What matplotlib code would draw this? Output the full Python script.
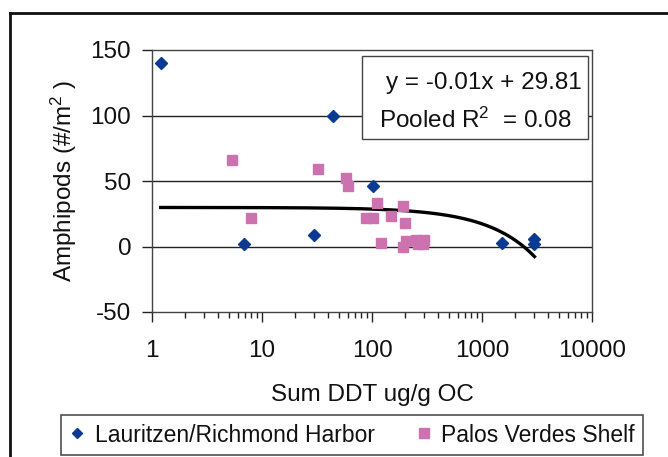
import numpy as np
import matplotlib
matplotlib.use("Agg")
import matplotlib.pyplot as plt
from matplotlib.lines import Line2D
from matplotlib.patches import Rectangle

plt.rcParams['font.family'] = ['Liberation Sans', 'DejaVu Sans']
plt.rcParams['axes.unicode_minus'] = False
plt.rcParams['mathtext.fontset'] = 'custom'
plt.rcParams['mathtext.rm'] = 'Liberation Sans'
plt.rcParams['mathtext.it'] = 'Liberation Sans'
plt.rcParams['mathtext.default'] = 'regular'

# Lauritzen/Richmond Harbor
lr_x = [1.2, 44, 6.9, 30, 102, 1520, 2950, 3000]
lr_y = [140, 100, 2, 9, 46, 2.5, 6, 2]

# Palos Verdes Shelf
pv_x = [5.3, 7.9, 32, 58, 60, 112, 88, 102, 190, 150, 200, 120, 190, 205, 250, 300, 262, 290]
pv_y = [66, 22, 59, 52, 46, 33, 22, 22, 31, 23, 18, 3, 0, 4, 5, 5, 2, 2]

# trend line (linear fit shown on log axis)
fit_slope = -0.0125
fit_intercept = 29.81
fit_xmin, fit_xmax = 1.2, 3000

x_ticks = [1, 10, 100, 1000, 10000]
x_ticklabels = ['1', '10', '100', '1000', '10000']
y_ticks = [-50, 0, 50, 100, 150]

W, H = 668, 457
fig = plt.figure(figsize=(W / 100, H / 100), dpi=100)
ax = fig.add_axes([152 / W, 1 - 312 / H, (592 - 152) / W, (312 - 50) / H])

fs_tick = 17.5
fs_lab = 17.5
fs_leg = 16.5
blue = '#0A3A91'
pink = '#CC72AE'

for y in [0, 50, 100]:
    ax.axhline(y, color='#222222', lw=1.0, zorder=1)

xf = np.logspace(np.log10(fit_xmin), np.log10(fit_xmax), 200)
ax.plot(xf, fit_slope * xf + fit_intercept, color='black', lw=2.4, zorder=2)

ax.plot(lr_x, lr_y, ls='none', marker='D', ms=6, color=blue, mec=blue, zorder=3,
        label='Lauritzen/Richmond Harbor')
ax.plot(pv_x, pv_y, ls='none', marker='s', ms=7.2, color=pink, mec=pink, zorder=3,
        label='Palos Verdes Shelf')

ax.set_xscale('log')
ax.set_xlim(1, 10000)
ax.set_ylim(-50, 150)
ax.set_xticks(x_ticks)
ax.set_xticklabels(x_ticklabels)
ax.set_yticks(y_ticks)
ax.tick_params(axis='both', which='major', direction='out', length=7, width=1,
               labelsize=fs_tick, colors='#222222', labelcolor='#111111')
ax.tick_params(axis='x', which='minor', direction='out', length=4, width=1, colors='#222222')
ax.tick_params(axis='x', pad=13)
ax.tick_params(axis='y', pad=8)
for s in ax.spines.values():
    s.set_color('#444444')
    s.set_linewidth(1.0)

ax.set_xlabel('Sum DDT ug/g OC', fontsize=fs_lab, color='#111111', labelpad=16)
ax.set_ylabel(r'Amphipods (#/m$^{2}$ )', fontsize=fs_lab, color='#111111', labelpad=8)

# equation box
bx0, by0, bx1, by1 = 362, 56, 588, 139
ax.add_patch(Rectangle((bx0 / W, 1 - by1 / H), (bx1 - bx0) / W, (by1 - by0) / H,
                       transform=fig.transFigure, facecolor='white', edgecolor='#444444',
                       lw=1.0, zorder=5))
fig.text(582 / W, 1 - 83 / H, 'y = -0.01x + 29.81', ha='right', va='center',
         fontsize=fs_lab, color='#111111', zorder=6)
fig.text(379 / W, 1 - 120 / H, r'Pooled R$^{2}$  = 0.08', ha='left', va='center',
         fontsize=fs_lab, color='#111111', zorder=6)

# legend
h1 = Line2D([], [], ls='none', marker='D', ms=5, color=blue)
h2 = Line2D([], [], ls='none', marker='s', ms=6.5, color=pink)
leg = fig.legend([h1, h2], ['Lauritzen/Richmond Harbor', 'Palos Verdes Shelf'],
                 loc='center', bbox_to_anchor=(352 / W, 1 - 435 / H), ncol=2,
                 fontsize=fs_leg, frameon=True, fancybox=False, edgecolor='#222222',
                 handlelength=0.7, handletextpad=0.4, columnspacing=1.8,
                 borderpad=0.35, labelcolor='#111111')
leg.get_frame().set_linewidth(1.2)

# outer frame (left and top edges)
fig.add_artist(Line2D([10 / W, 10 / W], [0, 1 - 13 / H], transform=fig.transFigure,
                      color='#111111', lw=2))
fig.add_artist(Line2D([10 / W, 1], [1 - 13 / H, 1 - 13 / H], transform=fig.transFigure,
                      color='#111111', lw=2))

fig.savefig('out.png', dpi=100)
